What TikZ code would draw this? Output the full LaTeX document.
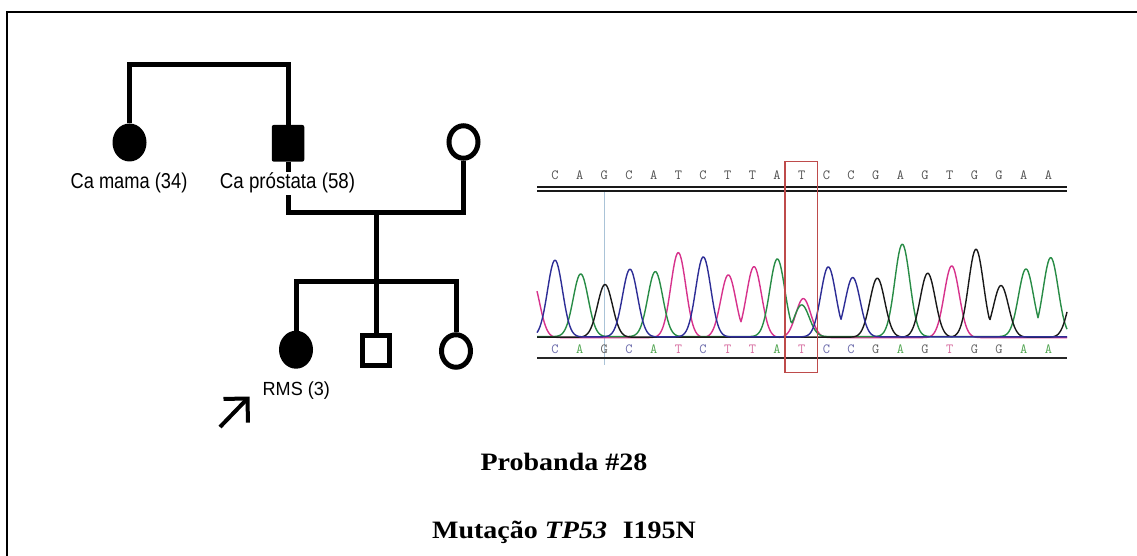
\documentclass[tikz,border=0pt]{standalone}
\usepackage{fontspec}
\usepackage{graphicx}
\setmainfont{Liberation Serif}
\newfontfamily\pedfont{Liberation Sans}
\usetikzlibrary{shapes.geometric,arrows.meta}

% trace and base-call colours
\definecolor{traceC}{RGB}{45,45,150}
\definecolor{traceA}{RGB}{40,140,70}
\definecolor{traceG}{RGB}{25,25,25}
\definecolor{traceT}{RGB}{215,50,140}
\definecolor{baseC}{RGB}{105,105,170}
\definecolor{baseA}{RGB}{80,165,80}
\definecolor{baseG}{RGB}{95,95,95}
\definecolor{baseT}{RGB}{215,110,160}
\definecolor{callgray}{RGB}{80,80,80}
\definecolor{boxred}{RGB}{190,75,75}
\definecolor{cursorblue}{RGB}{170,195,215}

\tikzset{
  % one peak of the trace (Gaussian, cut off far from its centre)
  declare function={pk(\xx,\cc,\hh)=\hh*exp(-0.5*(min(30,abs(\xx-\cc))/7.5)^2);},
  ped/.style={line width=5pt},
  affF/.style={ellipse, fill=black, minimum width=34pt, minimum height=38pt, inner sep=0pt},
  affM/.style={rectangle, fill=black, rounded corners=2pt, minimum width=32.5pt, minimum height=36.7pt, inner sep=0pt},
  unF/.style={ellipse, draw, line width=5pt, fill=white, minimum width=29pt, minimum height=32.5pt, inner sep=0pt},
  unM/.style={rectangle, draw, line width=5pt, fill=white, minimum width=26.7pt, minimum height=30pt, inner sep=0pt},
  pedlabel/.style={anchor=base, inner sep=1.5pt, font=\pedfont\fontsize{21.5}{24}\selectfont},
  title/.style={anchor=base, inner sep=0pt, font=\bfseries\fontsize{25}{28}\selectfont},
  seqtop/.style={anchor=base, inner sep=0pt, text=callgray, font=\ttfamily\fontsize{14}{15}\selectfont},
  seqbot/.style={anchor=base, inner sep=0pt, font=\ttfamily\fontsize{14}{15}\selectfont},
  trace/.style={line width=1.4pt, line join=round},
  seqrule/.style={line width=2pt, black!90},
}

\begin{document}
\begin{tikzpicture}[x=1pt,y=-1pt]
\useasboundingbox (0,0) rectangle (1137,556);
\fill[white] (0,0) rectangle (1137,556);

% outer frame (left and top edges)
\draw[line width=2.5pt] (7,556) -- (7,12) -- (1137,12);

% ---------------- pedigree ----------------
\node[affF] (mama) at (129.5,142.5) {};
\node[affM] (prost) at (288,143.3) {};
\node[unF]  (wife) at (463.5,142) {};
\node[affF] (rms) at (296,349.7) {};
\node[unM]  (bro) at (376,350.8) {};
\node[unF]  (sis) at (456,351) {};

\coordinate (top) at (200,65);
\coordinate (mar) at (376,212.3);
\coordinate (sib) at (376,281.7);

\draw[ped] (mama.north) -- (mama.north |- top) -- (prost.north |- top) -- (prost.north);
\draw[ped] (prost.south) -- (prost.south |- mar) -- (wife.south |- mar) -- (wife.south);
\draw[ped] (mar) -- (sib);
\draw[ped] (rms.north) -- (rms.north |- sib) -- (sis.north |- sib) -- (sis.north);
\draw[ped] (sib) -- (bro.north);

\node[pedlabel] (lmama) at (129,189) {\scalebox{0.85}[1]{Ca mama (34)}};
\node[pedlabel, fill=white] (lprost) at (287.5,189) {\scalebox{0.87}[1]{Ca próstata (58)}};
\node[pedlabel, font=\pedfont\fontsize{19}{22}\selectfont] (lrms) at (296.3,395) {\scalebox{0.95}[1]{RMS (3)}};

% proband pointer
\coordinate (ptail) at (220,427);
\coordinate (ptip) at (249.5,396.5);
\draw[line width=4pt, -{Straight Barb[length=17pt,width=34pt]}] (ptail) -- (ptip);

% ---------------- electropherogram ----------------
% cursor line
\draw[cursorblue, line width=1pt] (604,190.7) -- (604,365);

% base calls
\foreach \b [count=\i from 0] in {C,A,G,C,A,T,C,T,T,A,T,C,C,G,A,G,T,G,G,A,A} {
  \node[seqtop] (t\i) at ({555+\i*24.67},180) {\b};
  \node[seqbot, text=base\b] (b\i) at ({555+\i*24.67},353.3) {\b};
}

% rules above and below the trace
\draw[seqrule] (537,187.2) -- (1067,187.2);
\draw[seqrule] (537,190.6) -- (1067,190.6);
\draw[line width=2.8pt, black!85] (537,358) -- (1067,358);

% traces, one per dye
\draw[trace, traceT] plot[domain=537:1067, samples=531]
  (\x, {337.6 - max(pk(\x,532,58), pk(\x,678.3,85), pk(\x,728.3,62.7), pk(\x,754,71), pk(\x,803.3,39), pk(\x,951.7,71.7))});
\draw[trace, traceA] plot[domain=537:1067, samples=531]
  (\x, {336.6 - max(pk(\x,580.7,62.7), pk(\x,655.3,65), pk(\x,777.3,77.7), pk(\x,801.7,31.7), pk(\x,902.3,92.4), pk(\x,1026,67.7), pk(\x,1050.7,79))});
\draw[trace, traceG] plot[domain=537:1067, samples=531]
  (\x, {337.2 - max(pk(\x,605,52.7), pk(\x,877.3,59), pk(\x,927.7,64), pk(\x,976,88), pk(\x,1001,51.7), pk(\x,1076,52))});
\draw[trace, traceC] plot[domain=537:1067, samples=531]
  (\x, {336.9 - max(pk(\x,555,76.7), pk(\x,630,67.7), pk(\x,703.3,80), pk(\x,828.3,70), pk(\x,852.7,59.4))});

% highlighted position
\node[draw=boxred, line width=1.3pt, minimum width=32.3pt, minimum height=211pt, inner sep=0pt] (mutbox) at (801.2,267.2) {};

% ---------------- captions ----------------
\node[title] (cap1) at (564,470) {\scalebox{1.12}[1]{Probanda \#28}};
\node[title] (cap2) at (564,538.3) {\scalebox{1.12}[1]{Mutação \textit{TP53}\hspace{14pt}I195N}};
\end{tikzpicture}
\end{document}
